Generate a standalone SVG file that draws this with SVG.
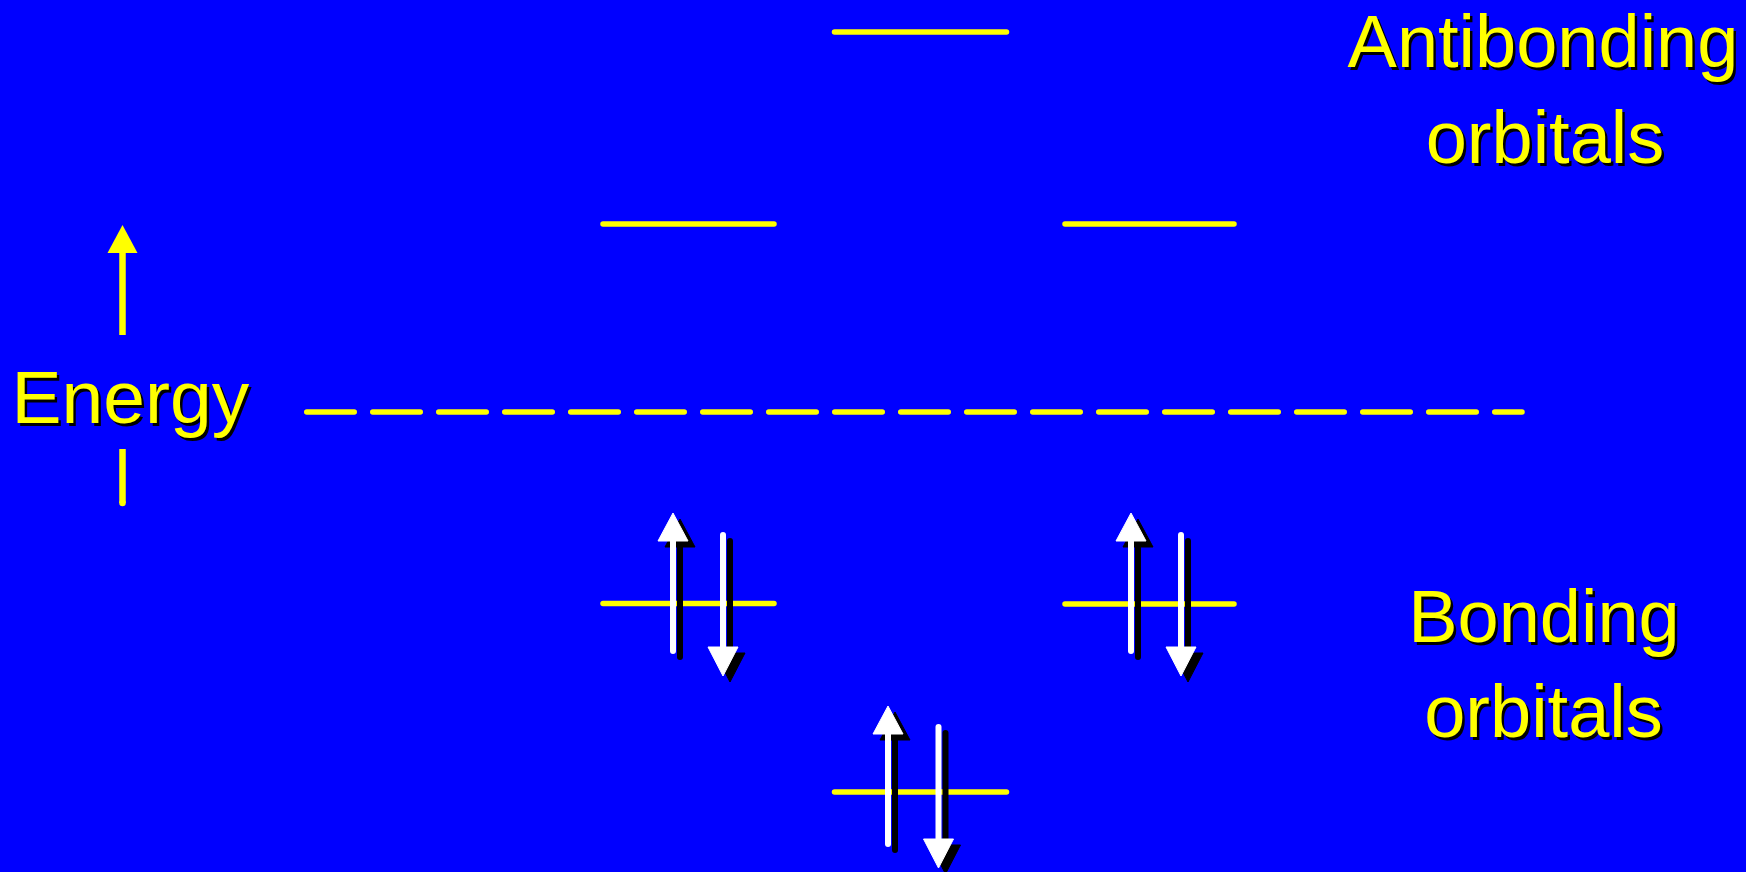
<svg xmlns="http://www.w3.org/2000/svg" xmlns:xlink="http://www.w3.org/1999/xlink" width="1746" height="872" viewBox="0 0 1746 872">
<style>
.lvl{stroke:#FFFF00;stroke-width:5.5;stroke-linecap:round;fill:none}
.dash{stroke:#FFFF00;stroke-width:5.5;stroke-linecap:round;stroke-dasharray:47.5 18.5;fill:none}
.lbl{font-family:"Liberation Sans",Arial,sans-serif;font-size:74px;fill:#FFFF00}
.sh{font-family:"Liberation Sans",Arial,sans-serif;font-size:74px;fill:#000000}
.ax{stroke:#FFFF00;stroke-width:6.5;fill:none}
</style>
<defs>
<g id="upA">
<line x1="0" y1="26" x2="0" y2="138" stroke-width="6" stroke-linecap="round"/>
<polygon points="0,0 15,28 -15,28"/>
</g>
<g id="downA">
<line x1="0" y1="-141" x2="0" y2="-27" stroke-width="6" stroke-linecap="round"/>
<polygon points="0,0 15,-29 -15,-29"/>
</g>
<g id="up">
<use href="#upA" x="7" y="6" fill="#000" stroke="#000"/>
<use href="#upA" fill="#fff" stroke="#fff"/>
</g>
<g id="down">
<use href="#downA" x="7" y="6" fill="#000" stroke="#000"/>
<use href="#downA" fill="#fff" stroke="#fff"/>
</g>
</defs>
<rect width="1746" height="872" fill="#0000FF"/>

<g id="energy-axis">
<line class="ax" x1="122.5" y1="251" x2="122.5" y2="335"/>
<polygon points="122.5,225 137.5,253 107.5,253" fill="#FFFF00"/>
<line class="ax" x1="122.5" y1="449" x2="122.5" y2="503" stroke-linecap="butt"/>
<circle cx="122.5" cy="503" r="3.25" fill="#FFFF00"/>
<text class="sh" x="14" y="425.5" style="font-size:75px">Energy</text>
<text class="lbl" x="11.5" y="423" style="font-size:75px">Energy</text>
</g>

<g id="connectors">
<line class="dash" x1="306.75" y1="412" x2="1522" y2="412"/>
</g>

<g id="antibonding-top"><line class="lvl" x1="834.5" y1="32" x2="1006.5" y2="32"/></g>
<g id="antibonding-left"><line class="lvl" x1="603" y1="224" x2="774" y2="224"/></g>
<g id="antibonding-right"><line class="lvl" x1="1065" y1="224" x2="1234" y2="224"/></g>

<g id="bonding-left">
<line class="lvl" x1="603" y1="603.5" x2="774" y2="603.5"/>
<use href="#up" x="673" y="513"/>
<use href="#down" x="723" y="676"/>
</g>
<g id="bonding-right">
<line class="lvl" x1="1065" y1="604" x2="1234" y2="604"/>
<use href="#up" x="1131" y="513"/>
<use href="#down" x="1181" y="676"/>
</g>
<g id="bonding-bottom">
<line class="lvl" x1="834.5" y1="792" x2="1006.5" y2="792"/>
<use href="#up" x="888" y="706"/>
<use href="#down" x="938.5" y="868"/>
</g>

<g id="label-antibonding">
<text class="sh" x="1545.5" y="69.5" text-anchor="middle">Antibonding</text>
<text class="lbl" x="1543" y="67" text-anchor="middle">Antibonding</text>
<text class="sh" x="1547.5" y="165.5" text-anchor="middle">orbitals</text>
<text class="lbl" x="1545" y="163" text-anchor="middle">orbitals</text>
</g>
<g id="label-bonding">
<text class="sh" x="1546.5" y="644.5" text-anchor="middle">Bonding</text>
<text class="lbl" x="1544" y="642" text-anchor="middle">Bonding</text>
<text class="sh" x="1546" y="739.5" text-anchor="middle">orbitals</text>
<text class="lbl" x="1543.5" y="737" text-anchor="middle">orbitals</text>
</g>
</svg>
